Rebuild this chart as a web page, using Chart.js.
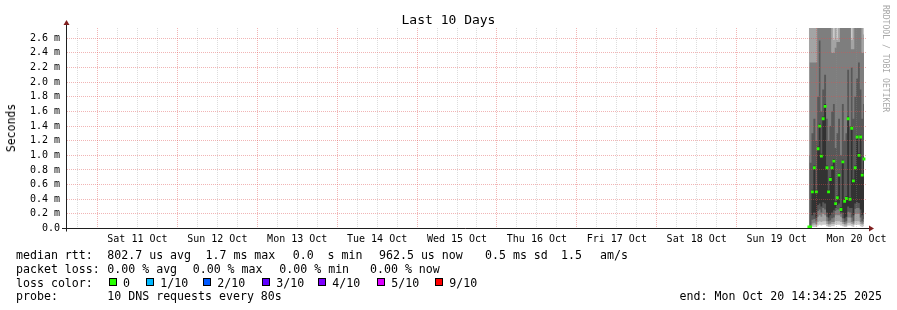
<!DOCTYPE html>
<html>
<head>
<meta charset="utf-8">
<title>Last 10 Days</title>
<script src="https://cdn.jsdelivr.net/npm/chart.js"></script>
<style>
  html, body { margin: 0; padding: 0; background: #fff; }
  #wrap { position: relative; width: 897px; height: 310px; overflow: hidden; font-family: 'DejaVu Sans Mono', monospace; color: #000; }
  #wrap canvas { position: absolute; left: 0; top: 0; }
  .t { position: absolute; white-space: pre; font-size: 11.6px; line-height: 14px; }
  #title { position: absolute; left: 0; top: 11.7px; width: 897px; text-align: center; font-size: 13px; line-height: 15px; }
  #ylabel { position: absolute; left: 11px; top: 127.5px; font-size: 11.5px; line-height: 14px; transform: translate(-50%, -50%) rotate(-90deg); white-space: pre; }
  #credit { position: absolute; left: 881px; top: 5px; font-size: 8.1px; line-height: 10px; color: #a8a8a8; writing-mode: vertical-rl; white-space: pre; }
  .sq { position: absolute; width: 8px; height: 8px; box-sizing: border-box; border: 1px solid #000; }
</style>
</head>
<body>
<div id="wrap">
  <canvas id="chart" width="897" height="310"></canvas>
  <div id="title">Last 10 Days</div>
  <div id="ylabel">Seconds</div>
  <div id="credit">RRDTOOL / TOBI OETIKER</div>
  <div id="legend"></div>
</div>
<script>
// hours since Fri 10 Oct 00:00
const binHours = [237.69, 238.20, 238.74, 239.34, 239.94, 240.45, 240.93, 241.44, 241.98, 242.58, 243.12, 243.60, 244.14, 244.65, 245.19, 245.73,
                  246.21, 246.75, 247.32, 247.89, 248.43, 248.94, 249.48, 250.05, 250.56, 251.07, 251.61, 252.18, 252.75, 253.23, 253.71, 254.25];

// milliseconds
const median = [0.02, 0.02, 0.50, 0.83, 0.50, 1.09, 1.40, 0.99, 1.50, 1.67, 0.83, 0.50, 0.67, 0.83, 0.92, 0.34,
                0.42, 0.73, 0.26, 0.91, 0.37, 0.41, 1.50, 0.40, 1.37, 0.65, 0.83, 1.25, 1.00, 1.25, 0.73, 0.95];

// sorted pings, p1 lowest .. p10 highest
const p1 = [0, 0, 0.02, 0.02, 0.02, 0.04, 0.05, 0.04, 0.05, 0.05, 0.03, 0.02, 0.02, 0.03, 0.03, 0.05,
            0.05, 0.05, 0.04, 0.03, 0.02, 0.02, 0.04, 0.04, 0.03, 0.02, 0.05, 0.05, 0.05, 0.03, 0.02, 0.03];
const p2 = [0, 0.01, 0.04, 0.05, 0.04, 0.09, 0.10, 0.09, 0.10, 0.10, 0.06, 0.04, 0.05, 0.06, 0.06, 0.10,
            0.10, 0.10, 0.09, 0.06, 0.04, 0.04, 0.08, 0.08, 0.06, 0.05, 0.10, 0.10, 0.10, 0.06, 0.05, 0.06];
const p3 = [0.02, 0.02, 0.07, 0.08, 0.06, 0.16, 0.18, 0.16, 0.20, 0.18, 0.10, 0.06, 0.07, 0.09, 0.09, 0.18,
            0.18, 0.18, 0.16, 0.09, 0.06, 0.07, 0.15, 0.15, 0.09, 0.07, 0.20, 0.20, 0.20, 0.09, 0.07, 0.09];
const p4 = [0.02, 0.02, 0.12, 0.13, 0.10, 0.24, 0.26, 0.22, 0.28, 0.26, 0.16, 0.10, 0.11, 0.14, 0.15, 0.24,
            0.26, 0.26, 0.20, 0.14, 0.09, 0.10, 0.23, 0.22, 0.15, 0.10, 0.27, 0.28, 0.28, 0.15, 0.10, 0.13];
const p5 = [0.02, 0.02, 0.18, 0.22, 0.15, 0.32, 0.34, 0.30, 0.36, 0.34, 0.22, 0.15, 0.18, 0.22, 0.25, 0.28,
            0.32, 0.34, 0.23, 0.22, 0.14, 0.16, 0.30, 0.28, 0.28, 0.18, 0.34, 0.36, 0.35, 0.26, 0.18, 0.22];
const p6 = [0.02, 0.02, 0.53, 0.86, 0.53, 1.12, 1.43, 1.02, 1.53, 1.70, 0.86, 0.53, 0.70, 0.86, 0.95, 0.37,
            0.45, 0.76, 0.29, 0.94, 0.40, 0.44, 1.53, 0.43, 1.40, 0.68, 0.86, 1.28, 1.03, 1.28, 0.76, 0.98];
const p7 = [0.02, 0.90, 1.30, 1.50, 1.20, 1.80, 2.57, 1.60, 1.90, 2.10, 1.50, 1.20, 1.40, 1.60, 1.70, 1.10,
            1.30, 1.50, 1.00, 1.70, 1.20, 1.30, 2.17, 1.40, 2.20, 1.50, 1.80, 2.05, 2.27, 1.90, 1.50, 1.70];
const p8 = [1.00, 2.27, 2.27, 2.27, 2.27, 3.20, 3.20, 3.20, 3.20, 3.20, 3.20, 3.20, 3.20, 2.40, 2.40, 2.47,
            2.55, 2.55, 3.20, 3.20, 3.20, 3.20, 3.20, 3.20, 2.45, 2.45, 3.20, 3.20, 3.20, 3.20, 2.40, 2.40];
const p9 = [3.20, 3.20, 3.20, 3.20, 3.20, 3.20, 3.20, 3.20, 3.20, 3.20, 3.20, 3.20, 3.20, 3.20, 2.58, 3.20,
            2.58, 3.20, 3.20, 3.20, 3.20, 3.20, 3.20, 3.20, 2.58, 3.20, 3.20, 3.20, 3.20, 3.20, 3.20, 2.65];
const p10 = [3.20, 3.20, 3.20, 3.20, 3.20, 3.20, 3.20, 3.20, 3.20, 3.20, 3.20, 3.20, 3.20, 3.20, 3.20, 3.20,
             3.20, 3.20, 3.20, 3.20, 3.20, 3.20, 3.20, 3.20, 3.20, 3.20, 3.20, 3.20, 3.20, 3.20, 3.20, 3.20];

const dayNoons = [36, 60, 84, 108, 132, 156, 180, 204, 228, 252];
const dayLabels = ['Sat 11 Oct', 'Sun 12 Oct', 'Mon 13 Oct', 'Tue 14 Oct', 'Wed 15 Oct', 'Thu 16 Oct', 'Fri 17 Oct', 'Sat 18 Oct', 'Sun 19 Oct', 'Mon 20 Oct'];
const yLabels = ['0.0', '0.2 m', '0.4 m', '0.6 m', '0.8 m', '1.0 m', '1.2 m', '1.4 m', '1.6 m', '1.8 m', '2.0 m', '2.2 m', '2.4 m', '2.6 m'];

const lossLabels = ['0', '1/10', '2/10', '3/10', '4/10', '5/10', '9/10'];
const lossColors = ['#26ff00', '#00b8ff', '#0059ff', '#5e00ff', '#7e00ff', '#dd00ff', '#ff0000'];

const X_MIN = 14.85, X_MAX = 254.85;
const GRID = 'rgba(143,143,143,0.3)';
const MGRID = 'rgba(222,79,79,0.42)';

const xGrid = [];
for (let h = 18; h <= 252; h += 6) xGrid.push(h);
const yGrid = [];
for (let i = 0; i <= 27; i++) yGrid.push(i / 10);

const toPts = arr => binHours.map((h, i) => ({ x: h, y: arr[i] }));

function band(arr, color, target) {
    return {
        data: toPts(arr),
        stepped: 'middle',
        borderWidth: 0,
        borderColor: 'rgba(0,0,0,0)',
        pointRadius: 0,
        backgroundColor: color || 'rgba(0,0,0,0)',
        fill: target === undefined ? false : target
    };
}

const axesPlugin = {
    id: 'rrdAxes',
    afterDraw(chart) {
        const { ctx, chartArea: a } = chart;
        ctx.save();
        ctx.strokeStyle = '#1f1f1f';
        ctx.lineWidth = 1;
        ctx.beginPath();
        ctx.moveTo(62, a.bottom);
        ctx.lineTo(a.right + 3, a.bottom);
        ctx.moveTo(a.left - 0.5, a.bottom + 3);
        ctx.lineTo(a.left - 0.5, a.top - 3);
        ctx.stroke();
        ctx.fillStyle = '#801f1f';
        ctx.beginPath();
        ctx.moveTo(a.left - 3.5, 25);
        ctx.lineTo(a.left + 2.5, 25);
        ctx.lineTo(a.left - 0.5, 20);
        ctx.closePath();
        ctx.fill();
        ctx.beginPath();
        ctx.moveTo(a.right + 3, a.bottom - 3);
        ctx.lineTo(a.right + 3, a.bottom + 3);
        ctx.lineTo(a.right + 8, a.bottom);
        ctx.closePath();
        ctx.fill();
        ctx.restore();
    }
};

const tickFont = { family: 'DejaVu Sans Mono', size: 10 };

new Chart(document.getElementById('chart'), {
    type: 'line',
    data: {
        datasets: [
            { data: toPts(median), showLine: false, pointStyle: 'rect', pointRadius: 2, backgroundColor: '#26ff00', borderWidth: 0 },
            band(p6, '#323232', 6),
            band(p7, '#585858', 7),
            band(p8, '#7e7e7e', 8),
            band(p9, '#a4a4a4', 9),
            band(p10, '#cacaca', 10),
            band(p5), band(p4), band(p3), band(p2), band(p1)
        ]
    },
    options: {
        responsive: false,
        animation: false,
        events: [],
        layout: { padding: { top: 28, right: 31, bottom: 0, left: 0 } },
        plugins: { legend: { display: false }, tooltip: { enabled: false } },
        scales: {
            x: {
                type: 'linear',
                min: X_MIN,
                max: X_MAX,
                afterBuildTicks: s => { s.ticks = xGrid.map(v => ({ value: v })); },
                afterFit: s => { s.height = 81.5; },
                ticks: {
                    autoSkip: false, maxRotation: 0, padding: 4.5, color: '#000', font: tickFont,
                    callback: v => { const i = dayNoons.indexOf(v); return i >= 0 ? dayLabels[i] : ''; }
                },
                grid: { z: 1, drawTicks: false, color: c => (c.tick && c.tick.value % 24 === 0) ? MGRID : GRID },
                border: { display: false, dash: [1, 1] }
            },
            y: {
                min: 0,
                max: 2.74,
                afterBuildTicks: s => { s.ticks = yGrid.map(v => ({ value: v })); },
                afterFit: s => { s.width = 67; },
                ticks: {
                    padding: 7, color: '#000', font: tickFont,
                    callback: v => { const k = Math.round(v * 10); return k % 2 === 0 ? yLabels[k / 2] : ''; }
                },
                grid: { z: 1, drawTicks: false, color: c => (c.tick && Math.round(c.tick.value * 10) % 2 === 0) ? MGRID : GRID },
                border: { display: false, dash: [1, 1] }
            }
        }
    },
    plugins: [axesPlugin]
});

// legend block under the graph
const legend = document.getElementById('legend');
function addText(x, y, s, right) {
    const d = document.createElement('div');
    d.className = 't';
    d.textContent = s;
    d.style.top = (y - 6.8) + 'px';
    if (right) d.style.right = (897 - x) + 'px'; else d.style.left = x + 'px';
    legend.appendChild(d);
}

addText(16, 255, 'median rtt:');
addText(107.3, 255, '802.7 us avg');
addText(205.5, 255, '1.7 ms max');
addText(292.7, 255, '0.0  s min');
addText(379, 255, '962.5 us now');
addText(485, 255, '0.5 ms sd');
addText(561, 255, '1.5');
addText(600, 255, 'am/s');

addText(16, 268.5, 'packet loss:');
addText(107.3, 268.5, '0.00 % avg');
addText(192.7, 268.5, '0.00 % max');
addText(279.3, 268.5, '0.00 % min');
addText(370, 268.5, '0.00 % now');

addText(16, 282.3, 'loss color:');
const sqX = [108.7, 146, 203, 262, 318, 377, 435];
lossLabels.forEach((lab, i) => {
    const sq = document.createElement('div');
    sq.className = 'sq';
    sq.style.left = sqX[i] + 'px';
    sq.style.top = (282.3 - 4) + 'px';
    sq.style.background = lossColors[i];
    legend.appendChild(sq);
    addText(sqX[i] + 14.3, 282.3, lab);
});

addText(16, 296, 'probe:');
addText(107.3, 296, '10 DNS requests every 80s');
addText(882, 296, 'end: Mon Oct 20 14:34:25 2025', true);
</script>
</body>
</html>
